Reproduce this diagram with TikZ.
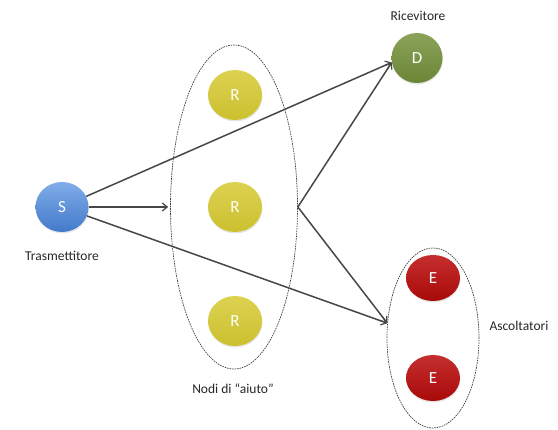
\documentclass[tikz,border=0pt]{standalone}
\usepackage{fontspec}
\setmainfont{Carlito}
\usetikzlibrary{shapes.geometric,arrows.meta,shadows}
\begin{document}
\begin{tikzpicture}[x=1pt,y=-1pt,
  ball/.style={ellipse,minimum width=54pt,minimum height=50pt,inner sep=0pt,
     text=white,font=\fontsize{17}{19}\selectfont,
     drop shadow={opacity=0.2,shadow xshift=0.5pt,shadow yshift=-1.5pt}},
  grp/.style={ellipse,draw=black!75,line width=0.7pt,dash pattern=on 1.6pt off 0.9pt,inner sep=0pt},
  lbl/.style={font=\fontsize{13.5}{15}\selectfont,text=black!85},
  conn/.style={draw=black!72,line width=1.5pt,-{Straight Barb[length=5pt,width=8pt,line width=1.2pt]}},
  plain/.style={draw=black!72,line width=1.4pt}]
\useasboundingbox (0,0) rectangle (558,430);
\definecolor{sblue}{HTML}{4A88E0}
\definecolor{dgreen}{HTML}{77933C}
\definecolor{ryel}{HTML}{D6CA32}
\definecolor{ered}{HTML}{BB0A0A}
% groups
\node[grp,minimum width=127pt,minimum height=324pt] (RG) at (234,207) {};
\node[grp,minimum width=92pt,minimum height=180pt] (EG) at (433,338) {};
% nodes
\node[ball,top color=sblue!70!white,bottom color=sblue!90!black,minimum width=53pt,minimum height=50pt] (S) at (62,207) {S};
\node[ball,top color=dgreen!85!white,bottom color=dgreen!90!black,minimum width=51pt,minimum height=50pt] (D) at (417,58) {D};
\node[ball,top color=ryel!85!white,bottom color=ryel!95!black] (R1) at (235,95) {R};
\node[ball,top color=ryel!85!white,bottom color=ryel!95!black] (R2) at (235,207) {R};
\node[ball,top color=ryel!85!white,bottom color=ryel!95!black] (R3) at (235,321) {R};
\node[ball,top color=ered!85!white,bottom color=ered!90!black,minimum height=46pt] (E1) at (433,278) {E};
\node[ball,top color=ered!85!white,bottom color=ered!90!black,minimum height=46pt] (E2) at (433,378) {E};
% labels
\node[lbl] (lS) at (62,256) {Trasmettitore};
\node[lbl] (lD) at (418,16) {Ricevitore};
\node[lbl] (lR) at (233,389) {Nodi di ``aiuto''};
\node[lbl] (lE) at (519,326) {Ascoltatori};
% connectors
\draw[conn] (S) -- (D.190);
\draw[conn,shorten >=2pt] (S) -- (RG.west);
\draw[conn] (S) -- (EG.162);
\draw[conn] (RG.east) -- (D.190);
\draw[conn] (RG.east) -- (EG.162);
\end{tikzpicture}
\end{document}
